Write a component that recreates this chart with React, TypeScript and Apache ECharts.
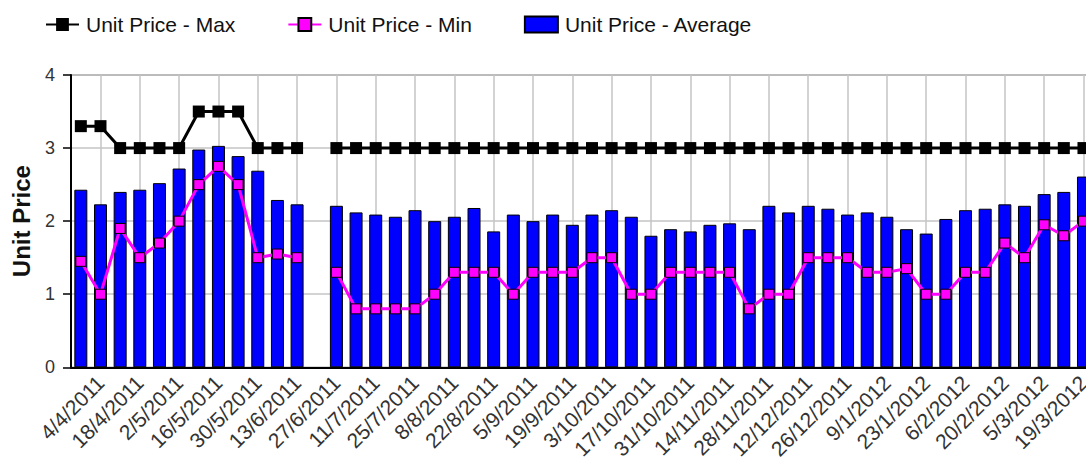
import React, { useEffect, useRef } from "react";
import * as echarts from "echarts";

const categories = [
  "28/3/2011", "4/4/2011", "11/4/2011", "18/4/2011", "25/4/2011", "2/5/2011", "9/5/2011", "16/5/2011",
  "23/5/2011", "30/5/2011", "6/6/2011", "13/6/2011", "20/6/2011", "27/6/2011", "4/7/2011", "11/7/2011",
  "18/7/2011", "25/7/2011", "1/8/2011", "8/8/2011", "15/8/2011", "22/8/2011", "29/8/2011", "5/9/2011",
  "12/9/2011", "19/9/2011", "26/9/2011", "3/10/2011", "10/10/2011", "17/10/2011", "24/10/2011", "31/10/2011",
  "7/11/2011", "14/11/2011", "21/11/2011", "28/11/2011", "5/12/2011", "12/12/2011", "19/12/2011", "26/12/2011",
  "2/1/2012", "9/1/2012", "16/1/2012", "23/1/2012", "30/1/2012", "6/2/2012", "13/2/2012", "20/2/2012",
  "27/2/2012", "5/3/2012", "12/3/2012", "19/3/2012",
];

const maxValues = [
  3.3, 3.3, 3, 3, 3, 3, 3.5, 3.5, 3.5, 3, 3, 3, null, 3, 3, 3,
  3, 3, 3, 3, 3, 3, 3, 3, 3, 3, 3, 3, 3, 3, 3, 3,
  3, 3, 3, 3, 3, 3, 3, 3, 3, 3, 3, 3, 3, 3, 3, 3,
  3, 3, 3, 3,
];

const minValues = [
  1.45, 1.0, 1.9, 1.5, 1.7, 2.0, 2.5, 2.75, 2.5, 1.5, 1.55, 1.5, null, 1.3, 0.8, 0.8,
  0.8, 0.8, 1.0, 1.3, 1.3, 1.3, 1.0, 1.3, 1.3, 1.3, 1.5, 1.5, 1.0, 1.0, 1.3, 1.3,
  1.3, 1.3, 0.8, 1.0, 1.0, 1.5, 1.5, 1.5, 1.3, 1.3, 1.35, 1.0, 1.0, 1.3, 1.3, 1.7,
  1.5, 1.95, 1.8, 2.0,
];

const avgValues = [
  2.43, 2.23, 2.40, 2.43, 2.52, 2.72, 2.98, 3.03, 2.89, 2.69, 2.29, 2.23, null, 2.21, 2.12, 2.09,
  2.06, 2.15, 2.00, 2.06, 2.18, 1.86, 2.09, 2.00, 2.09, 1.95, 2.09, 2.15, 2.06, 1.80, 1.89, 1.86,
  1.95, 1.97, 1.89, 2.21, 2.12, 2.21, 2.17, 2.09, 2.12, 2.06, 1.89, 1.83, 2.03, 2.15, 2.17, 2.23,
  2.21, 2.37, 2.40, 2.61,
];

const yTicks = [0, 1, 2, 3, 4];

const FONT = "'Liberation Sans', Arial, sans-serif";

export default function App() {
  const ref = useRef<HTMLDivElement>(null);

  useEffect(() => {
    if (!ref.current) return;
    const chart = echarts.init(ref.current, undefined, { renderer: "svg" });
    const every2 = (i: number) => i % 2 === 1;
    chart.setOption({
      animation: false,
      backgroundColor: "#fff",
      textStyle: { fontFamily: FONT },
      legend: {
        left: 45,
        top: 14,
        padding: 0,
        itemGap: 52,
        itemWidth: 33,
        itemHeight: 16,
        textStyle: { fontSize: 21, color: "#111", fontFamily: FONT, padding: [0, 0, 0, 2] },
        data: [
          { name: "Unit Price - Max" },
          { name: "Unit Price - Min" },
          { name: "Unit Price - Average", icon: "rect" },
        ],
      },
      grid: {
        left: 71,
        top: 75,
        width: 1022.3,
        height: 292.3,
        show: true,
        borderColor: "#444",
        borderWidth: 1,
        containLabel: false,
        outerBoundsMode: "none",
      },
      xAxis: {
        type: "category",
        data: categories,
        axisLine: { lineStyle: { color: "#000", width: 2 } },
        axisTick: { alignWithLabel: true, interval: every2, length: 6, lineStyle: { color: "#000", width: 1.5 } },
        axisLabel: {
          interval: every2,
          rotate: 45,
          fontSize: 21,
          color: "#333",
          margin: 12,
          fontFamily: FONT,
        },
        splitLine: {
          show: true,
          interval: every2,
          alignWithLabel: true,
          lineStyle: { color: "#c4c4c4", width: 1.5 },
        },
      },
      yAxis: {
        type: "value",
        min: yTicks[0],
        max: yTicks[yTicks.length - 1],
        interval: 1,
        name: "Unit Price",
        nameLocation: "middle",
        nameGap: 38,
        nameTextStyle: { fontSize: 24, fontWeight: "bold", color: "#111", fontFamily: FONT },
        axisLine: { show: true, lineStyle: { color: "#000", width: 2 } },
        axisTick: { show: true, length: 8, lineStyle: { color: "#000", width: 1.5 } },
        axisLabel: { fontSize: 18, color: "#333", margin: 16, fontFamily: FONT },
        splitLine: { show: true, lineStyle: { color: "#c4c4c4", width: 1.5 } },
      },
      series: [
        {
          name: "Unit Price - Average",
          type: "bar",
          data: avgValues,
          barWidth: 13,
          itemStyle: { color: "#0000ff", borderColor: "#000", borderWidth: 1 },
        },
        {
          name: "Unit Price - Max",
          type: "line",
          data: maxValues,
          symbol: "rect",
          symbolSize: 12,
          showAllSymbol: true,
          lineStyle: { color: "#000", width: 3 },
          itemStyle: { color: "#000" },
          z: 3,
        },
        {
          name: "Unit Price - Min",
          type: "line",
          data: minValues,
          symbol: "rect",
          symbolSize: 10,
          showAllSymbol: true,
          lineStyle: { color: "#ff00ff", width: 3 },
          itemStyle: { color: "#ff00ff", borderColor: "#000", borderWidth: 1 },
          z: 4,
        },
      ],
    });
    return () => chart.dispose();
  }, []);

  return (
    <div style={{ position: "fixed", left: 0, top: 0, width: 1086, height: 459, overflow: "hidden", background: "#fff" }}>
      <div ref={ref} style={{ width: 1110, height: 459 }} />
    </div>
  );
}
